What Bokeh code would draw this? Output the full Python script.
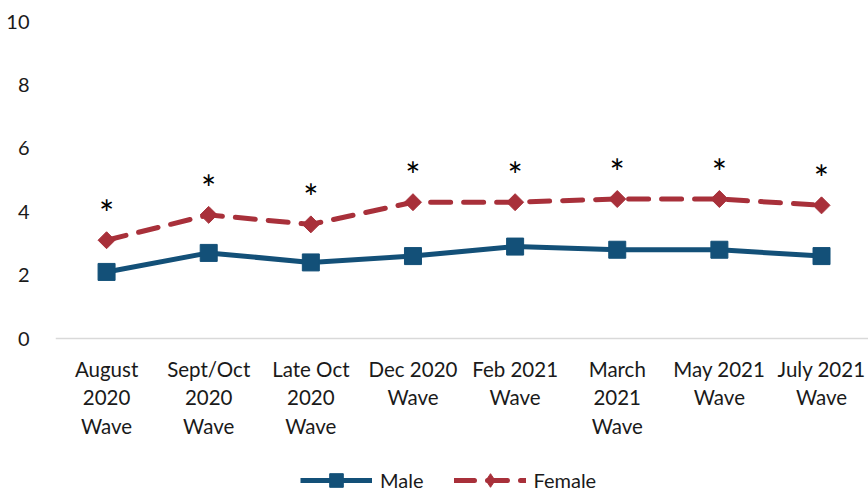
import math
from bokeh.plotting import figure
from bokeh.models import Range1d, FixedTicker, Legend, LegendItem, ColumnDataSource, Span
from bokeh.embed import file_html
from bokeh.resources import INLINE
from bokeh.core.properties import value

categories = ["August\n2020\nWave", "Sept/Oct\n2020\nWave", "Late Oct\n2020\nWave",
              "Dec 2020\nWave", "Feb 2021\nWave", "March\n2021\nWave",
              "May 2021\nWave", "July 2021\nWave"]
male = [2.1, 2.7, 2.4, 2.6, 2.9, 2.8, 2.8, 2.6]
female = [3.1, 3.9, 3.6, 4.3, 4.3, 4.4, 4.4, 4.2]
significance = ["*", "*", "*", "*", "*", "*", "*", "*"]
y_ticks = [0, 2, 4, 6, 8, 10]

FONT = "Lato"
BLUE = "#135078"
RED = "#A8303A"

W, H = 868, 491
TOP, LEFT = 21, 55
AXIS_Y = 338                      # pixel row of the value 0
PX_PER_UNIT = (AXIS_Y - TOP) / 10.0
y_bottom = -(H - AXIS_Y) / PX_PER_UNIT

xs = list(range(len(categories)))
src = ColumnDataSource(dict(x=xs, male=male, female=female,
                            star_y=[f + 0.85 for f in female], star=significance))
lab_src = ColumnDataSource(dict(x=xs, label=categories,
                                y=[-18 / PX_PER_UNIT] * len(categories)))

p = figure(width=W, height=H, output_backend="svg", toolbar_location=None,
           x_range=Range1d(-0.5, 7.46), y_range=Range1d(y_bottom, 10),
           min_border_top=TOP, min_border_left=LEFT, min_border_right=0, min_border_bottom=0)
p.outline_line_color = None
p.xgrid.visible = False
p.ygrid.visible = False
p.xaxis.visible = False
p.background_fill_color = "white"
p.border_fill_color = "white"

p.add_layout(Span(location=0, dimension="width", line_color="#D9D9D9", line_width=1.5))

ml = p.line("x", "male", source=src, line_color=BLUE, line_width=5, line_join="round")
mm = p.scatter("x", "male", source=src, marker="square", size=17, fill_color=BLUE, line_color=BLUE)
fl = p.line("x", "female", source=src, line_color=RED, line_width=5, line_dash="20 13", line_cap="round")
fm = p.scatter("x", "female", source=src, marker="square", size=12, angle=math.pi / 4,
               fill_color=RED, line_color=RED)
# legend-only diamond swatch (a single non-plotted point)
fm_key = p.scatter(x=[float("nan")], y=[float("nan")], marker="diamond", size=18,
                   fill_color=RED, line_color=RED)
p.text("x", "star_y", text="star", source=src, text_align="center", text_baseline="alphabetic",
       text_font=value(FONT), text_font_size="36px", text_color="black")

p.text("x", "y", text="label", source=lab_src, text_align="center", text_baseline="top",
       text_font=value(FONT), text_font_size="20.5px", text_color="#1a1a1a",
       text_line_height=1.2)

p.yaxis.ticker = FixedTicker(ticks=y_ticks)
p.yaxis.axis_line_color = None
p.yaxis.major_tick_line_color = None
p.yaxis.minor_tick_line_color = None
p.yaxis.major_label_text_font = FONT
p.yaxis.major_label_text_font_size = "20px"
p.yaxis.major_label_text_color = "#1a1a1a"
p.yaxis.major_label_standoff = 20

legend = Legend(items=[LegendItem(label="Male", renderers=[ml, mm]),
                       LegendItem(label="Female", renderers=[fl, fm_key])],
                orientation="horizontal", location=(245, -6))
legend.border_line_color = None
legend.background_fill_alpha = 0
legend.label_text_font = FONT
legend.label_text_font_size = "20px"
legend.label_text_color = "#1a1a1a"
legend.glyph_width = 72
legend.glyph_height = 34
legend.spacing = 30
legend.label_standoff = 8
legend.margin = 0
legend.padding = 0
p.add_layout(legend)

open("out.html", "w").write(file_html(p, INLINE))
